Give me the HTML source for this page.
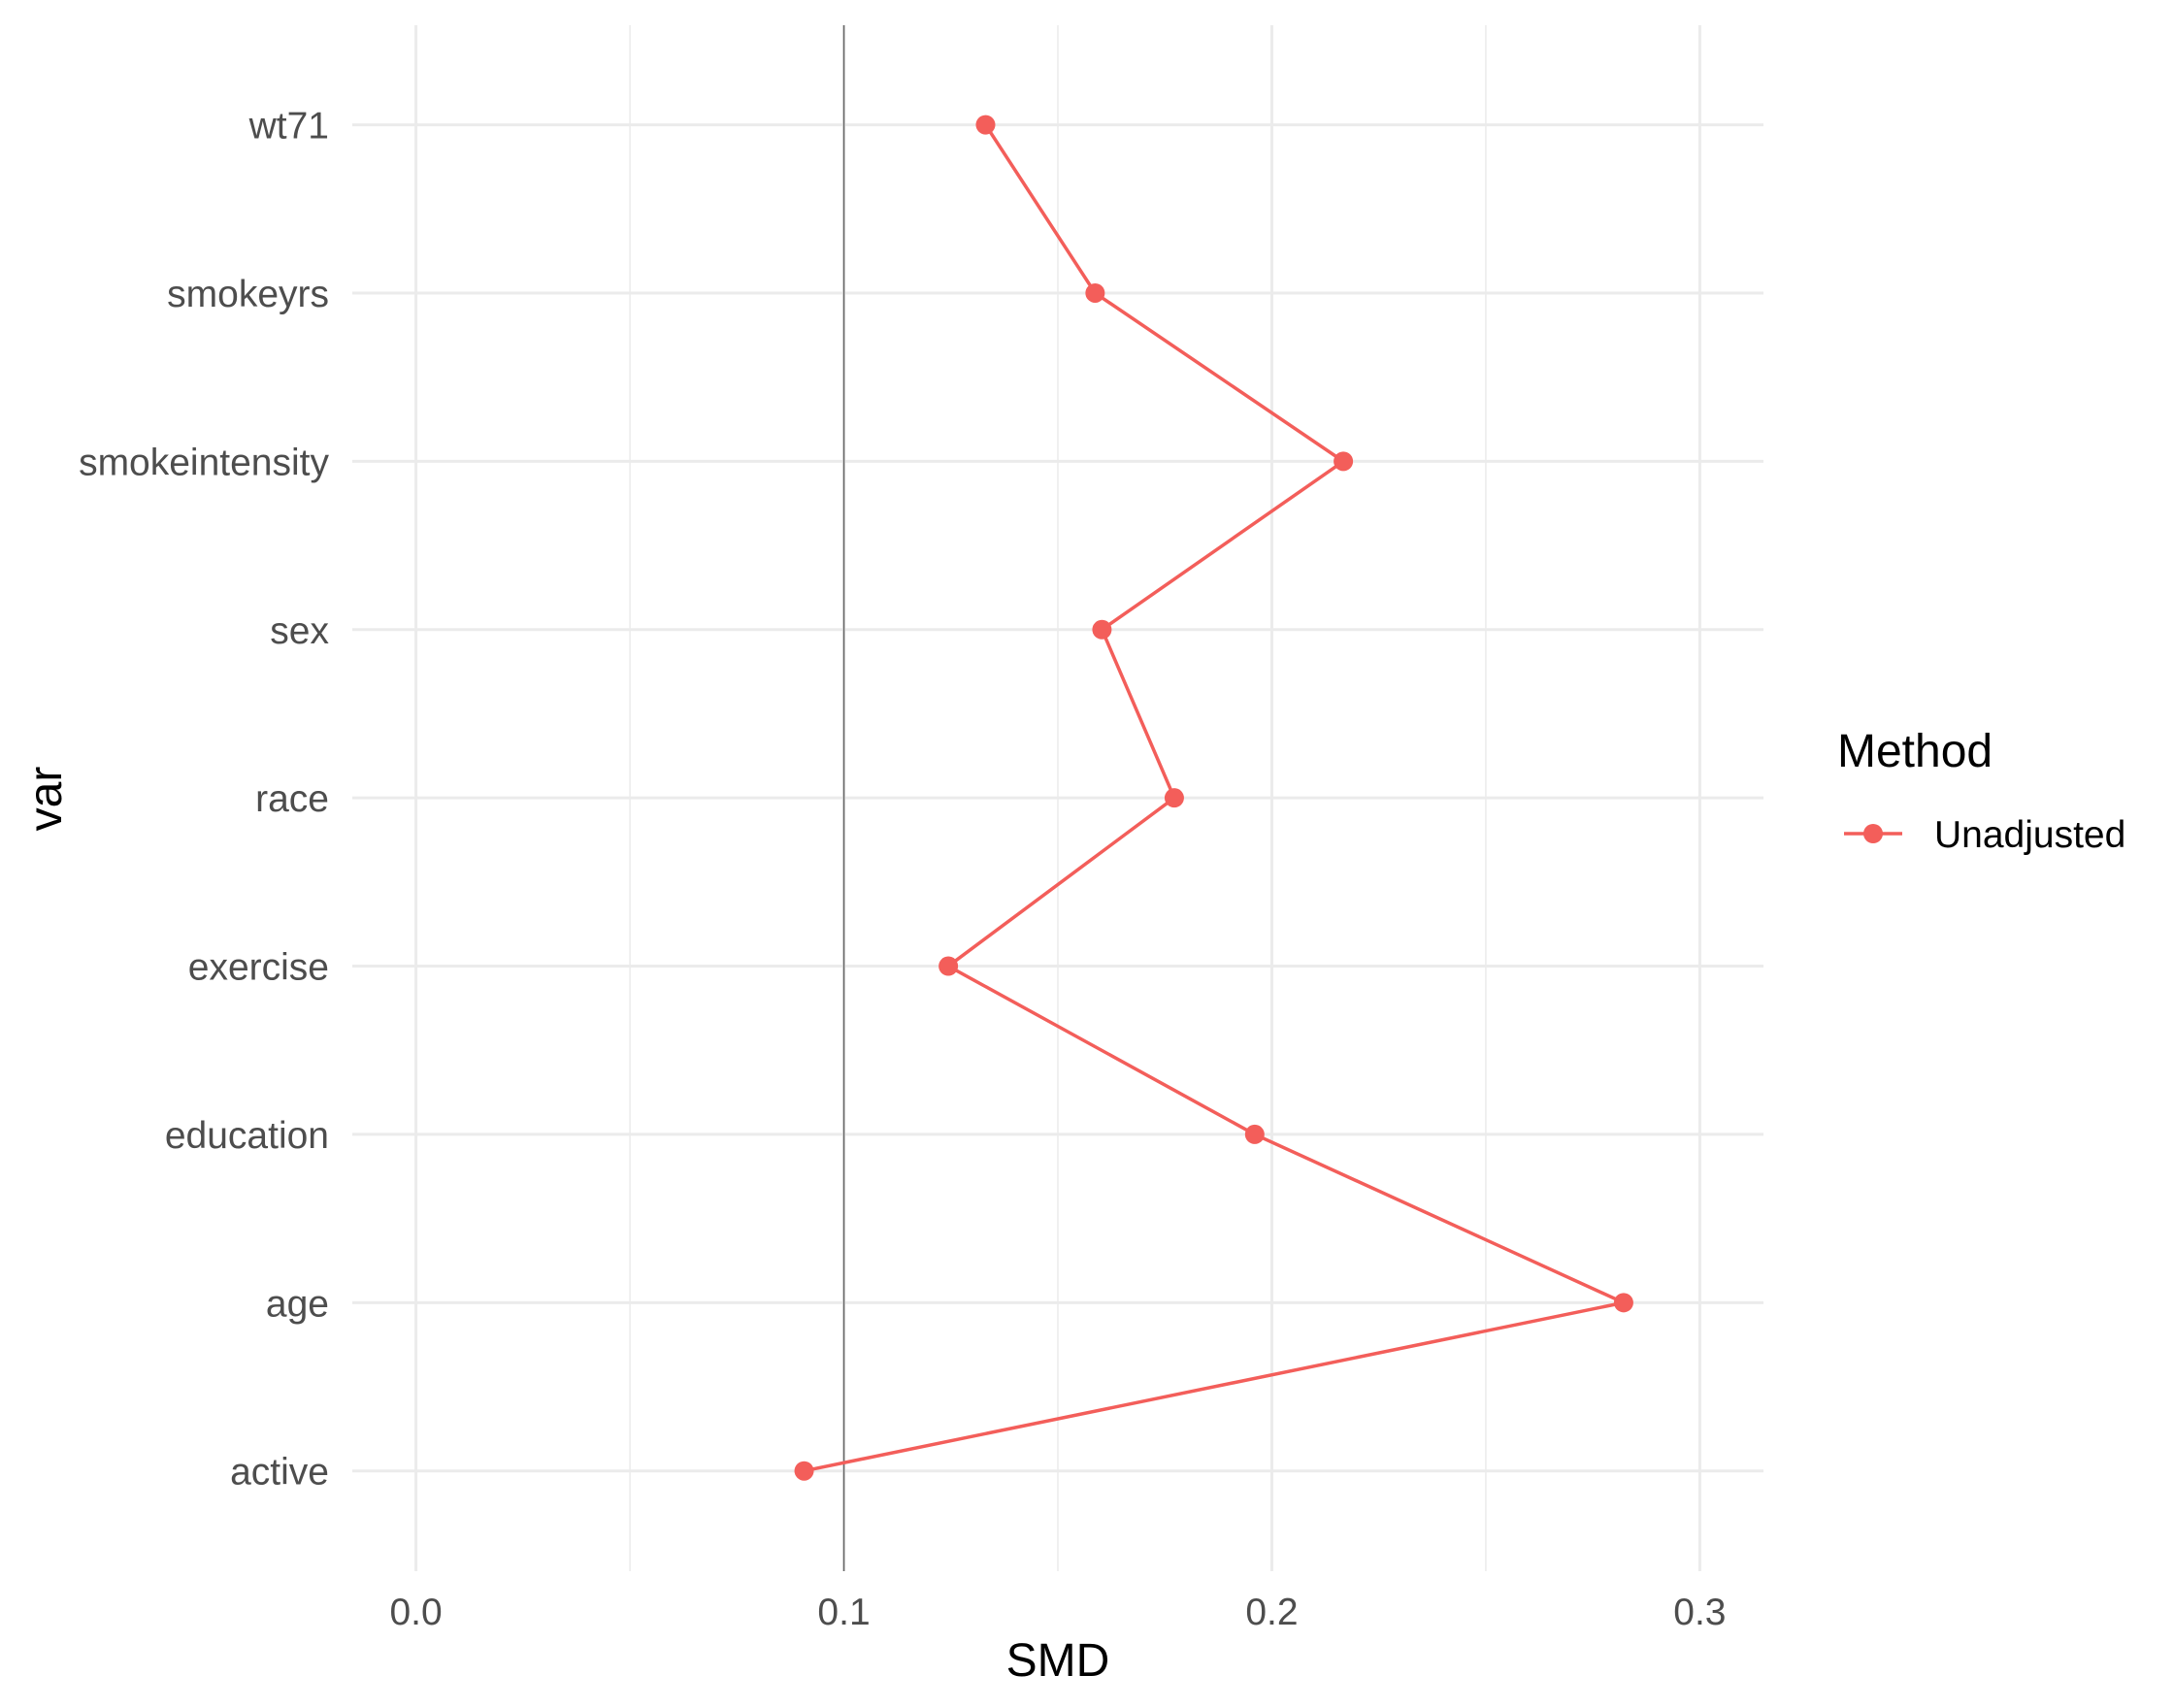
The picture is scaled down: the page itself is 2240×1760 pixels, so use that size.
<!DOCTYPE html>
<html><head><meta charset="utf-8"><style>body{margin:0;background:#fff}svg{display:block;font-family:"Liberation Sans",sans-serif}</style></head>
<body>
<svg id="chart" width="2240" height="1760" viewBox="0 0 2240 1760"></svg>
<script>
const categories = ["wt71","smokeyrs","smokeintensity","sex","race","exercise","education","age","active"];
const smdValues = [0.1331,0.1587,0.2167,0.1603,0.1772,0.1244,0.1960,0.2822,0.0907];
const xTicks = [0.0,0.1,0.2,0.3];
const xTickLabels = ["0.0","0.1","0.2","0.3"];
const xMinor = [0.05,0.15,0.25];
const threshold = 0.1;

const svg = document.getElementById('chart');
const NS = 'http://www.w3.org/2000/svg';
const P = {l:363, r:1817, t:26, b:1619};
const x0 = 428.6, xPerUnit = (1751.4-428.6)/0.3;
const X = v => x0 + v*xPerUnit;
const yTop = 128.6, yStep = (1515.7-128.6)/8;
const Y = i => yTop + i*yStep;
const RED = '#F35E5A';
function mk(tag, attrs, parent){const e=document.createElementNS(NS,tag);for(const k in attrs)e.setAttribute(k,attrs[k]);(parent||svg).appendChild(e);return e;}

xMinor.forEach(v=>{
  const l=mk('line',{x1:X(v),x2:X(v),y1:P.t,y2:P.b,stroke:'#ebebeb','stroke-width':1.5});
  
  
});
xTicks.forEach((v,i)=>{
  const l=mk('line',{x1:X(v),x2:X(v),y1:P.t,y2:P.b,stroke:'#ebebeb','stroke-width':3});
  
  
  const t=mk('text',{x:X(v),y:1674,'text-anchor':'middle','font-size':39,fill:'#4d4d4d'});
  t.textContent=xTickLabels[i];
  
  
});
categories.forEach((c,i)=>{
  const l=mk('line',{x1:P.l,x2:P.r,y1:Y(i),y2:Y(i),stroke:'#ebebeb','stroke-width':3});
  
  
  const t=mk('text',{x:339,y:Y(i)+14,'text-anchor':'end','font-size':39,fill:'#4d4d4d'});
  t.textContent=c;
  
  
});
const th=mk('line',{x1:X(threshold),x2:X(threshold),y1:P.t,y2:P.b,stroke:'#666','stroke-width':1.5});



const pts=smdValues.map((v,i)=>X(v)+','+Y(i)).join(' ');
const pl=mk('polyline',{points:pts,fill:'none',stroke:RED,'stroke-width':3.5});


smdValues.forEach((v,i)=>{
  const c=mk('circle',{cx:X(v),cy:Y(i),r:10,fill:RED});
  
  
});

const xt=mk('text',{x:1090,y:1727,'text-anchor':'middle','font-size':48,fill:'#000'});
xt.textContent='SMD';


const yt=mk('text',{x:0,y:0,'text-anchor':'middle','font-size':48,fill:'#000',transform:'translate(63,823) rotate(-90)'});
yt.textContent='var';



const lt=mk('text',{x:1893,y:790,'font-size':48,fill:'#000'});
lt.textContent='Method';


const g=mk('g',{});


mk('line',{x1:1900,x2:1960,y1:859,y2:859,stroke:RED,'stroke-width':3.5},g);
mk('circle',{cx:1930,cy:859,r:10,fill:RED},g);
const ll=mk('text',{x:1993,y:873,'font-size':39,fill:'#000'},g);
ll.textContent='Unadjusted';
</script>
</body></html>
